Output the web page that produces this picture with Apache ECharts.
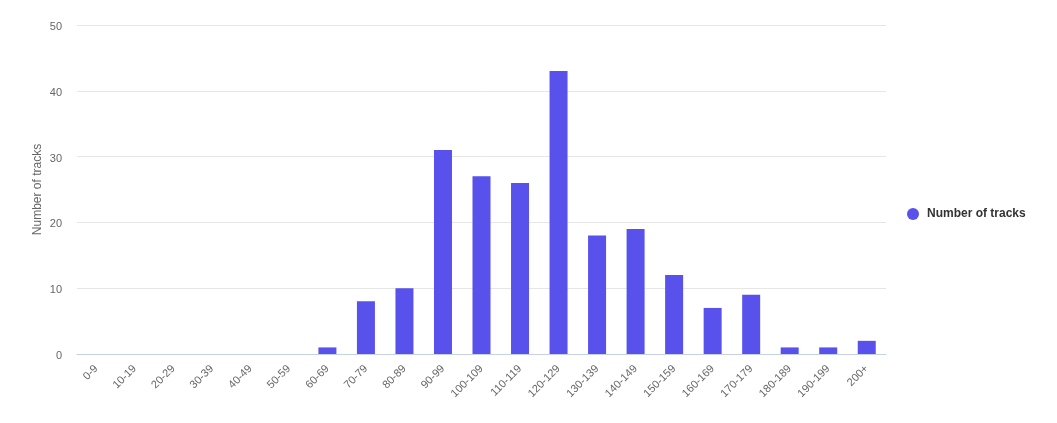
<!DOCTYPE html>
<html><head><meta charset="utf-8">
<script src="https://cdn.jsdelivr.net/npm/echarts@6/dist/echarts.min.js"></script>
<style>html,body{margin:0;padding:0;background:#fff;}#c{width:1057px;height:423px;}</style>
</head><body><div id="c"></div>
<script>
const categories = ['0-9','10-19','20-29','30-39','40-49','50-59','60-69','70-79','80-89','90-99','100-109','110-119','120-129','130-139','140-149','150-159','160-169','170-179','180-189','190-199','200+'];
const trackCounts = [0,0,0,0,0,0,1,8,10,31,27,26,43,18,19,12,7,9,1,1,2];
const seriesName = 'Number of tracks';
const yAxisName = 'Number of tracks';

const chart = echarts.init(document.getElementById('c'), null, {renderer:'canvas'});
chart.setOption({
  animation: false,
  textStyle: {fontFamily: '"Liberation Sans", Arial, sans-serif'},
  grid: {left: 77, right: 171, top: 25, bottom: 69, containLabel: false},
  legend: {
    orient: 'vertical', left: 902, top: 203,
    icon: 'circle', itemWidth: 18, itemHeight: 12, itemGap: 10,
    textStyle: {fontSize: 12, fontWeight: 'bold', color: '#333'},
    data: [seriesName]
  },
  xAxis: {
    type: 'category', data: categories,
    axisLine: {lineStyle: {color: '#c7d1e6'}},
    axisTick: {show: false},
    axisLabel: {rotate: 45, color: '#666', fontSize: 11, margin: 13, interval: 0}
  },
  yAxis: {
    type: 'value', min: 0, max: 50, interval: 10,
    name: yAxisName, nameLocation: 'middle', nameGap: 33, nameMoveOverlap: false,
    nameTextStyle: {color: '#666', fontSize: 12},
    axisLine: {show: false}, axisTick: {show: false},
    axisLabel: {color: '#666', fontSize: 11, margin: 15, verticalAlign: 'top', lineHeight: 4},
    splitLine: {lineStyle: {color: '#e6e6e6'}}
  },
  series: [{
    name: seriesName, type: 'bar', data: trackCounts,
    barWidth: 18,
    itemStyle: {color: '#5851ec'}
  }]
});
</script></body></html>
